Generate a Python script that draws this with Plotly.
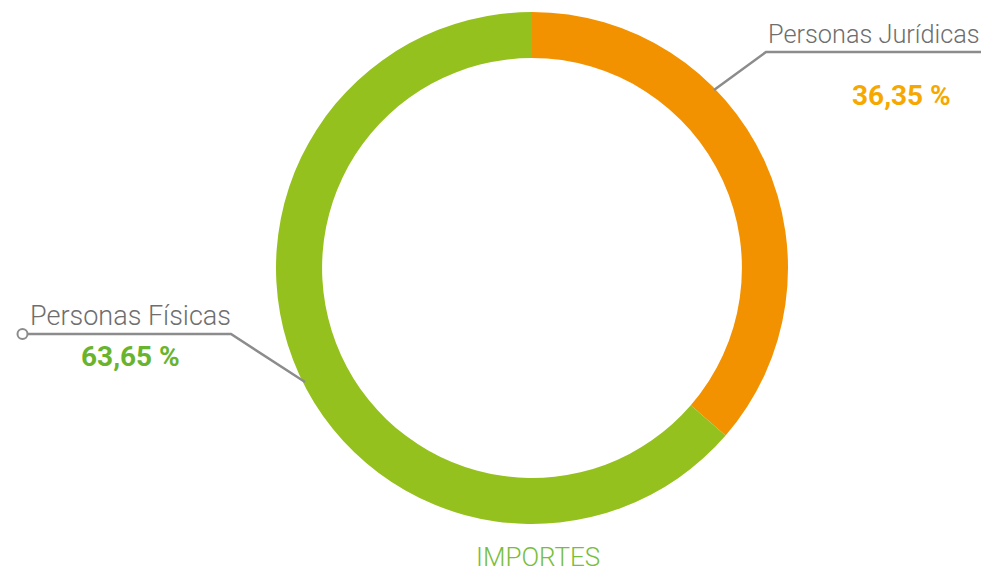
import plotly.graph_objects as go

labels = ["Personas Jurídicas", "Personas Físicas"]
values = [36.35, 63.65]
slice_colors = ["#F39200", "#95C11F"]
pct_colors = ["#F6A800", "#6AB42D"]
pct_text = ["36,35 %", "63,65 %"]
title_text = "IMPORTES"

# page body has an 8px margin; compensate so screen coords match reference
OFF = 8
W, H = 989 - OFF, 573 - OFF
TOP, BOT = 12, 524          # pie outer extent in screen px
MT = TOP - OFF
PH = BOT - TOP
MB = H - MT - PH
CX = 532 - OFF
R = PH / 2

def px(x):
    return (x - OFF) / W

def py(y):
    return 1 - (y - OFF - MT) / PH

fig = go.Figure(go.Pie(
    labels=labels, values=values, sort=False, direction="clockwise", rotation=0,
    hole=0.82, marker=dict(colors=slice_colors, line=dict(width=0)),
    textinfo="none", hoverinfo="label+percent", showlegend=False,
    domain=dict(x=[(CX - R) / W, (CX + R) / W], y=[0, 1]),
))

line_col = "#8C8C8C"
shapes = [
    dict(type="path", xref="paper", yref="paper",
         path=f"M {px(714)} {py(90)} L {px(766)} {py(52)} L {px(995)} {py(52)}",
         line=dict(color=line_col, width=2.5)),
    dict(type="path", xref="paper", yref="paper",
         path=f"M {px(27)} {py(334)} L {px(231)} {py(334)} L {px(305)} {py(382)}",
         line=dict(color=line_col, width=2.5)),
    dict(type="circle", xref="paper", yref="paper",
         x0=px(17.5), x1=px(27.5), y0=py(339), y1=py(329),
         line=dict(color=line_col, width=2), fillcolor="white"),
]

font_name = "Roboto"
annotations = [
    dict(x=px(766), y=py(34), text=labels[0], xanchor="left", yanchor="middle",
         font=dict(family=font_name, size=25.3, color="#6E6E6E", weight=300)),
    dict(x=px(901), y=py(95), text=f"<b>{pct_text[0]}</b>", xanchor="center", yanchor="middle",
         font=dict(family=font_name, size=28, color=pct_colors[0])),
    dict(x=px(28), y=py(316), text=labels[1], xanchor="left", yanchor="middle",
         font=dict(family=font_name, size=27, color="#6E6E6E", weight=300)),
    dict(x=px(130), y=py(356), text=f"<b>{pct_text[1]}</b>", xanchor="center", yanchor="middle",
         font=dict(family=font_name, size=28, color=pct_colors[1])),
    dict(x=px(538), y=py(557), text=title_text, xanchor="center", yanchor="middle",
         borderpad=0,
         font=dict(family=font_name, size=26, color="#78BE3C", weight=300)),
]
for a in annotations:
    a.update(xref="paper", yref="paper", showarrow=False)

fig.update_layout(
    width=W, height=H, margin=dict(l=0, r=0, t=MT, b=MB),
    paper_bgcolor="white", plot_bgcolor="white",
    shapes=shapes, annotations=annotations,
)
fig.write_html("out.html")
